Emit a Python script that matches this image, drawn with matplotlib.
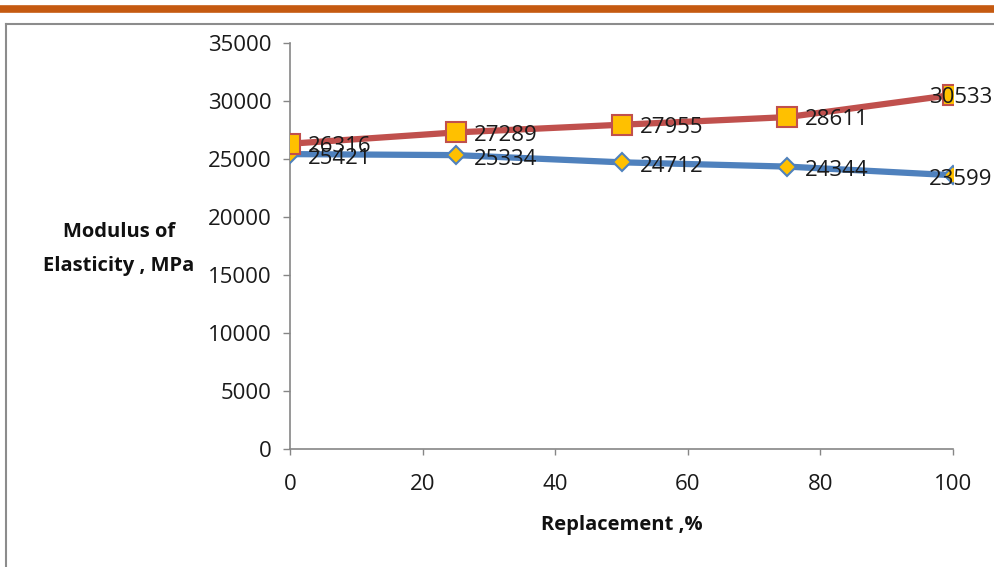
import matplotlib
matplotlib.use("Agg")
import matplotlib.pyplot as plt
from matplotlib.lines import Line2D

# Data
replacement = [0, 25, 50, 75, 100]
modulus_red = [26316, 27289, 27955, 28611, 30533]
modulus_blue = [25421, 25334, 24712, 24344, 23599]
y_ticks = [0, 5000, 10000, 15000, 20000, 25000, 30000, 35000]
x_ticks = [0, 20, 40, 60, 80, 100]

plt.rcParams['font.family'] = ['Open Sans', 'DejaVu Sans']

fig = plt.figure(figsize=(9.95, 5.67), dpi=100)
ax = fig.add_axes([0.2915, 0.2081, 0.6663, 0.7161])

# Blue series (diamonds)
ax.plot(replacement, modulus_blue, color='#4F81BD', lw=4.5,
        marker='D', markersize=9, markerfacecolor='#FFC000',
        markeredgecolor='#4F81BD', markeredgewidth=1.5, zorder=3)
# Red series (squares)
ax.plot(replacement, modulus_red, color='#C0504D', lw=4.5,
        marker='s', markersize=14, markerfacecolor='#FFC000',
        markeredgecolor='#C0504D', markeredgewidth=1.5, zorder=4)

# Data labels, to the right of each point (last one pulled back inside the figure)
def label_series(xs, ys, dy):
    for i, (x, y) in enumerate(zip(xs, ys)):
        if i < len(xs) - 1:
            ax.annotate(str(y), (x, y), xytext=(13, dy), textcoords='offset points',
                        ha='left', va='center', fontsize=16, color='#1a1a1a', zorder=5)
        else:
            ax.annotate(str(y), (x, y), xytext=(28.5, dy), textcoords='offset points',
                        ha='right', va='center', fontsize=16, color='#1a1a1a',
                        zorder=5, annotation_clip=False)

label_series(replacement, modulus_red, -2)
label_series(replacement, modulus_blue, -3)

ax.set_xlim(0, 100)
ax.set_ylim(0, 35000)
ax.set_xticks(x_ticks)
ax.set_yticks(y_ticks)
ax.tick_params(axis='both', labelsize=16, colors='#868686', labelcolor='#1a1a1a',
               width=1, direction='out')
ax.tick_params(axis='y', length=5, pad=8)
ax.tick_params(axis='x', length=4, pad=14)

for side in ['top', 'right']:
    ax.spines[side].set_visible(False)
for side in ['left', 'bottom']:
    ax.spines[side].set_color('#868686')
    ax.spines[side].set_linewidth(1.2)

# Axis titles
fig.text(119 / 995, 1 - 249 / 567, "Modulus of\nElasticity , MPa", ha='center', va='center',
         fontsize=14.5, fontweight='bold', linespacing=1.9, color='#111111')
fig.text(622 / 995, 1 - 525 / 567, "Replacement ,%", ha='center', va='center',
         fontsize=14.5, fontweight='bold', color='#111111')

# Page decorations: orange rule at top and gray chart border
fig.add_artist(Line2D([0, 1], [1 - 8.5 / 567, 1 - 8.5 / 567], color='#C55A11', lw=5.5))
fig.add_artist(Line2D([6 / 995, 1], [1 - 24 / 567, 1 - 24 / 567], color='#8c8c8c', lw=1.5))
fig.add_artist(Line2D([6 / 995, 6 / 995], [0, 1 - 24 / 567], color='#8c8c8c', lw=1.5))

fig.savefig("out.png", dpi=100)
